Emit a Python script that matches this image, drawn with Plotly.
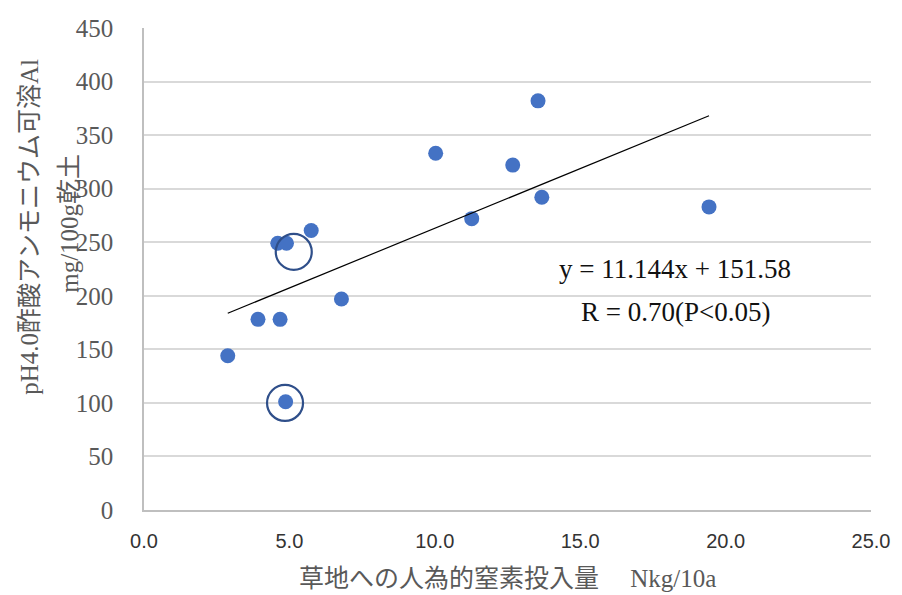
import plotly.graph_objects as go

# Anthropogenic nitrogen input to grassland (N kg/10a) vs. exchangeable Al (mg/100g dry soil)
n_input = [2.88, 3.92, 4.68, 4.60, 4.90, 5.75, 4.87, 6.79, 10.03, 11.27, 12.68, 13.55, 13.68, 19.43]
al_value = [144, 178, 178, 249, 249, 261, 101, 197, 333, 272, 322, 382, 292, 283]

# Highlighted sites (open rings)
ring_x = [5.15, 4.85]
ring_y = [241, 100]

# Linear fit reported on the chart
slope = 11.144
intercept = 151.58
fit_label = "y = 11.144x + 151.58"
r_label = "R = 0.70(P<0.05)"

x_ticks = [0, 5, 10, 15, 20, 25]
y_ticks = [0, 50, 100, 150, 200, 250, 300, 350, 400, 450]

serif = "Liberation Serif, Noto Sans CJK JP, serif"
sans = "Liberation Sans Narrow, Arial Narrow, Liberation Sans, sans-serif"
grey = "#595959"

fit_x = [min(n_input), max(n_input)]
fit_y = [slope * v + intercept for v in fit_x]

fig = go.Figure()
fig.add_trace(go.Scatter(
    x=n_input, y=al_value, mode="markers",
    marker=dict(size=15, color="#4472C4", line=dict(width=0)),
    showlegend=False, hoverinfo="x+y",
))
fig.add_trace(go.Scatter(
    x=fit_x, y=fit_y, mode="lines",
    line=dict(color="black", width=1.2),
    showlegend=False, hoverinfo="skip",
))
fig.add_trace(go.Scatter(
    x=ring_x, y=ring_y, mode="markers",
    marker=dict(symbol="circle-open", size=36, color="#2F4F8A",
                line=dict(width=2.2, color="#2F4F8A")),
    showlegend=False, hoverinfo="skip",
))

fig.update_xaxes(
    range=[0, 25], tickvals=x_ticks, ticktext=[f"{v:.1f}" for v in x_ticks],
    showgrid=False, zeroline=False,
    showline=True, linecolor="#BFBFBF", linewidth=1.5,
    ticks="", tickfont=dict(family=sans, size=20, color="#333333"),
    ticklabelstandoff=12,
)
fig.update_yaxes(
    range=[0, 450], tickvals=y_ticks,
    showgrid=True, gridcolor="#D9D9D9", gridwidth=1.5, zeroline=False,
    showline=True, linecolor="#BFBFBF", linewidth=1.5,
    ticks="", tickfont=dict(family=serif, size=25, color=grey),
    ticklabelstandoff=24,
)

annotations = [
    dict(text="草地への人為的窒素投入量　 Nkg/10a", xref="paper", yref="paper",
         x=0.5, y=0, yshift=-68, xanchor="center", yanchor="middle", showarrow=False,
         font=dict(family=serif, size=25, color=grey)),
    dict(text="pH4.0酢酸アンモニウム可溶Al", xref="paper", yref="paper",
         x=0, xshift=-114, y=0.5876, textangle=-90,
         xanchor="center", yanchor="middle", showarrow=False,
         font=dict(family=serif, size=25, color=grey)),
    dict(text="mg/100g乾土", xref="paper", yref="paper",
         x=0, xshift=-74, y=0.5938, textangle=-90,
         xanchor="center", yanchor="middle", showarrow=False,
         font=dict(family=serif, size=25, color=grey)),
    dict(text=fit_label, xref="x", yref="y", x=18.27, y=225,
         xanchor="center", yanchor="middle", showarrow=False,
         font=dict(family=serif, size=27, color="#111111")),
    dict(text=r_label, xref="x", yref="y", x=18.27, y=185,
         xanchor="center", yanchor="middle", showarrow=False,
         font=dict(family=serif, size=27, color="#111111")),
]

fig.update_layout(
    width=902, height=595,
    margin=dict(l=144, r=21, t=28, b=85),
    paper_bgcolor="white", plot_bgcolor="white",
    annotations=annotations,
)

fig.write_html("out.html")
